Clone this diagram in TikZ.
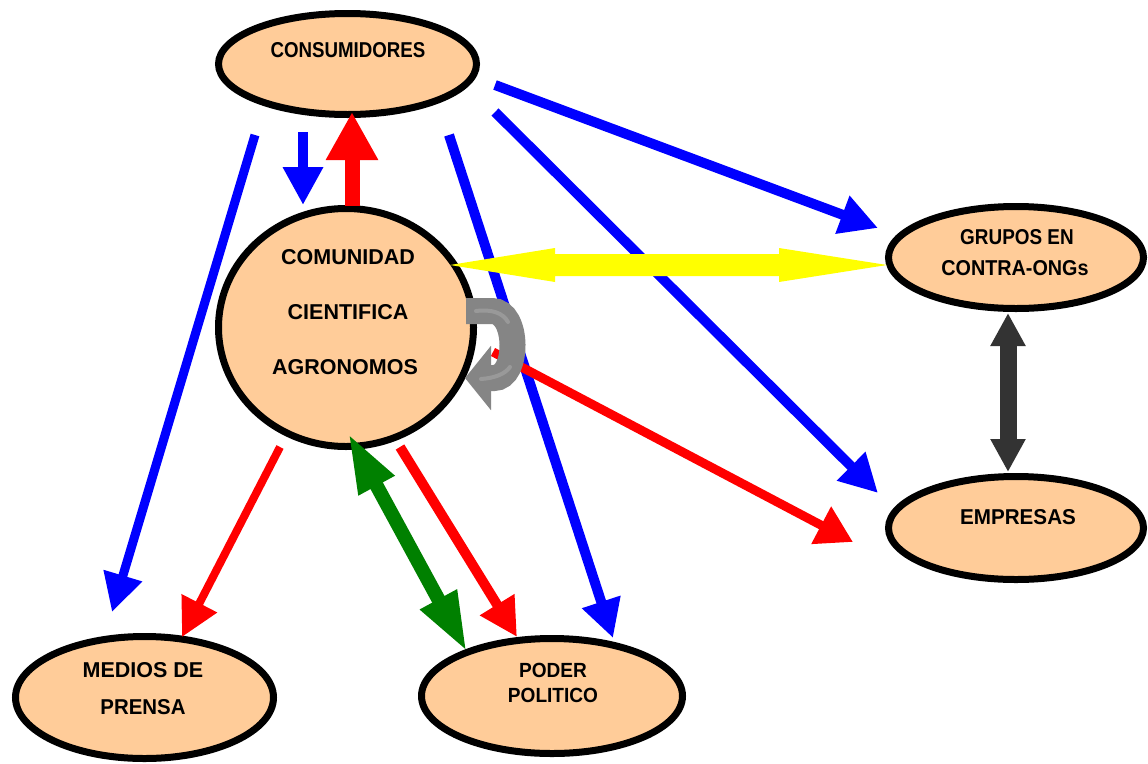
\documentclass[tikz,border=0pt]{standalone}
\usepackage{fontspec}
\setmainfont{Liberation Sans}
\usetikzlibrary{arrows.meta,shapes.geometric,calc}
\definecolor{peach}{HTML}{FFCC99}
\definecolor{bblue}{HTML}{0000FF}
\definecolor{rred}{HTML}{FF0000}
\definecolor{ggreen}{HTML}{008000}
\definecolor{yyellow}{HTML}{FFFF00}
\definecolor{dgrey}{HTML}{333333}
\definecolor{mgrey}{HTML}{858585}
\definecolor{lgrey}{HTML}{999999}
\begin{document}
\begin{tikzpicture}[x=1pt,y=-1pt,
  ent/.style={ellipse,draw=black,line width=7pt,fill=peach,inner sep=0pt,outer sep=0pt},
  lbl/.style={font=\fontsize{21.5}{23}\selectfont\bfseries,inner sep=0pt,anchor=center},
  lblp/.style={font=\fontsize{20.5}{22}\selectfont\bfseries,inner sep=0pt,anchor=center},
  blueline/.style={draw=bblue,line width=10pt,-{Triangle[length=38pt,width=38pt]}},
  redline/.style={draw=rred,line width=10pt,-{Triangle[length=38pt,width=38pt]}}
]
\fill[white] (0,0) rectangle (1148,763);
\useasboundingbox (0,0) rectangle (1148,763);

% entities
\node[ent,minimum width=258pt,minimum height=101pt] (cons) at (347.5,64) {};
\node[ent,minimum width=255pt,minimum height=238pt] (com) at (346,327.5) {};
\node[ent,minimum width=255pt,minimum height=102pt] (grp) at (1016,257.5) {};
\node[ent,minimum width=255pt,minimum height=103pt] (emp) at (1016,528) {};
\node[ent,minimum width=258pt,minimum height=122pt] (med) at (144.5,697.5) {};
\node[ent,minimum width=261pt,minimum height=115pt] (pod) at (552,696) {};

% labels
\node[lbl] (consT) at (348,50) {\scalebox{0.87}[1]{CONSUMIDORES}};
\node[lbl] (comT1) at (348,257) {COMUNIDAD};
\node[lbl] (comT2) at (348,312) {CIENTIFICA};
\node[lbl] (comT3) at (345,367) {AGRONOMOS};
\node[lbl] (grpT1) at (1017,237) {\scalebox{0.88}[1]{GRUPOS EN}};
\node[lbl] (grpT2) at (1015,268) {\scalebox{0.92}[1]{CONTRA-ONGs}};
\node[lbl] (empT) at (1018,517) {\scalebox{0.96}[1]{EMPRESAS}};
\node[lbl] (medT1) at (143,670) {MEDIOS DE};
\node[lbl] (medT2) at (143,707) {\scalebox{0.95}[1]{PRENSA}};
\node[lblp] (podT1) at (553,670) {\scalebox{0.93}[1]{PODER}};
\node[lblp] (podT2) at (553,695) {\scalebox{0.93}[1]{POLITICO}};

% connector end points
\coordinate (b1s) at (255,135);  \coordinate (b1e) at (112,612);
\coordinate (b2s) at (303,132);  \coordinate (b2e) at (303,205);
\coordinate (r1s) at (352,206);  \coordinate (r1e) at (352,112);
\coordinate (b3s) at (449,135);  \coordinate (b3e) at (613,638);
\coordinate (b4s) at (495,85);   \coordinate (b4e) at (878,228);
\coordinate (b5s) at (495,112);  \coordinate (b5e) at (878,493);
\coordinate (r2s) at (280,447);  \coordinate (r2e) at (182,637);
\coordinate (r3s) at (400,447);  \coordinate (r3e) at (517,637);
\coordinate (r4s) at (493,352);  \coordinate (r4e) at (853,542);
\coordinate (g1) at (348,433);   \coordinate (g2) at (467,652);
\coordinate (y1) at (450,265);   \coordinate (y2) at (887,265);
\coordinate (d1) at (1008,313);  \coordinate (d2) at (1008,472);

% blue arrows
\draw[blueline,line width=9pt] (b1s) -- (b1e);
\draw[blueline] (b2s) -- (b2e);
\draw[blueline] (b3s) -- (b3e);
\draw[blueline] (b4s) -- (b4e);
\draw[blueline] (b5s) -- (b5e);

% red arrows
\draw[redline,line width=15pt,-{Triangle[length=48pt,width=49pt]}] (r1s) -- (r1e);
\draw[redline,line width=8pt] (r2s) -- (r2e);
\draw[redline] (r3s) -- (r3e);
\draw[redline,line width=9pt,-{Triangle[length=36pt,width=40pt]}] (r4s) -- (r4e);

% grey circular arrow
\draw[mgrey,line width=26pt,-{Triangle[length=26pt,width=63pt]}]
  (466,311) -- (492,311) .. controls (519,311) and (519,378) .. (494,378) -- (465,378);
\draw[lgrey,line width=4pt,line cap=round] (476,311) .. controls (492,309) and (503,313) .. (508,322);
\draw[lgrey,line width=4pt,line cap=round] (481,379) .. controls (495,378) and (505,374) .. (510,367);

% yellow double arrow
\fill[yyellow] (y1) -- ($(y1)+(105,-17)$) -- ($(y1)+(105,-11)$) -- ($(y2)+(-108,-11)$)
  -- ($(y2)+(-108,-17)$) -- (y2) -- ($(y2)+(-108,17)$) -- ($(y2)+(-108,11)$)
  -- ($(y1)+(105,11)$) -- ($(y1)+(105,17)$) -- cycle;

% green double arrow
\draw[ggreen,line width=14pt,{Triangle[length=60pt,width=37pt]}-{Triangle[length=60pt,width=38pt]}] (g1) -- (g2);

% dark grey double arrow
\draw[dgrey,line width=17pt,{Triangle[length=33pt,width=33pt]}-{Triangle[length=33pt,width=33pt]}] (d1) -- (d2);
\end{tikzpicture}
\end{document}
